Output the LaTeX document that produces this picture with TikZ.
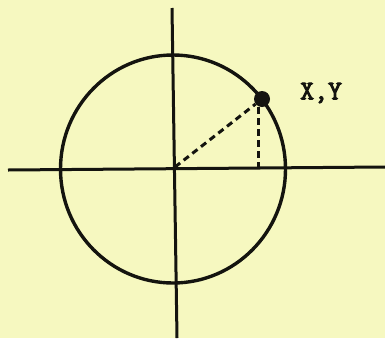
\documentclass[tikz,border=0pt]{standalone}
\usepackage{fontspec}
\newfontfamily\xyfont{Latin Modern Mono}[FakeBold=3.5]
\definecolor{paper}{RGB}{246,248,192}
\definecolor{ink}{RGB}{20,20,15}
\begin{document}
\begin{tikzpicture}[x=1pt,y=-1pt,
  axis/.style={draw=ink,line width=3pt},
  ring/.style={draw=ink,line width=3.4pt},
  dashline/.style={draw=ink,line width=3pt,dash pattern=on 6.5pt off 4.5pt},
  pointdot/.style={circle,fill=ink,inner sep=0pt,minimum size=16pt},
  lbl/.style={text=ink,font=\xyfont\fontsize{27}{27}\selectfont,inner sep=0pt}]
\fill[paper] (0,0) rectangle (385,338);
\useasboundingbox (0,0) rectangle (385,338);
\coordinate (vtop) at (172,8);
\coordinate (vbot) at (177,338);
\coordinate (hleft) at (8,170);
\coordinate (hright) at (385,167);
\coordinate (O) at (175,167);
\coordinate (foot) at (258,168);
\draw[axis] (vtop) -- (vbot);
\draw[axis] (hleft) -- (hright);
\draw[ring] (173,169) ellipse [x radius=112.5, y radius=114];
\node[pointdot] (P) at (262,99) {};
\draw[dashline] (O) -- (P);
\draw[dashline] (P.south -| foot) -- (foot);
\node[lbl,anchor=west] (L) at (300,93) {X,Y};
\end{tikzpicture}
\end{document}
